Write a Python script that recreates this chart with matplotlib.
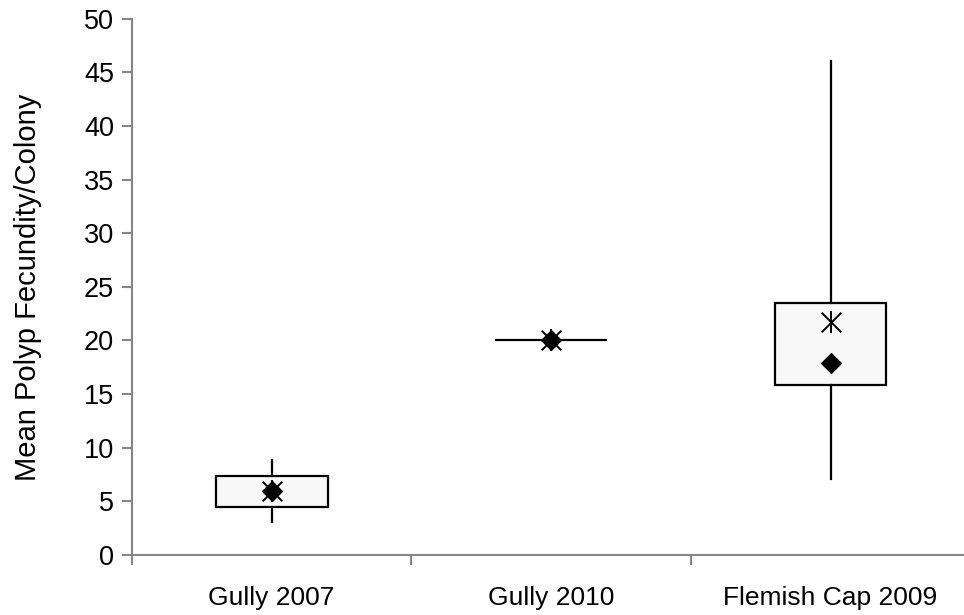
import matplotlib
matplotlib.use("Agg")
import matplotlib.pyplot as plt

categories = ["Gully 2007", "Gully 2010", "Flemish Cap 2009"]
whisker_low = [3.05, 20.05, 7.1]
q1 = [4.47, 20.05, 15.85]
q3 = [7.4, 20.05, 23.45]
whisker_high = [8.85, 20.05, 46.1]
diamond_vals = [6.0, 20.05, 17.9]
asterisk_vals = [6.0, 20.05, 21.75]
yticks = [0, 5, 10, 15, 20, 25, 30, 35, 40, 45, 50]

plt.rcParams['font.family'] = ['Liberation Sans', 'DejaVu Sans']

fig = plt.figure(figsize=(9.64, 6.15), dpi=100)
ax = fig.add_axes([132/964, 1 - 555/615, 1 - 132/964, (555 - 18.7)/615])

positions = list(range(1, len(categories) + 1))
stats = []
for i in range(len(categories)):
    stats.append(dict(whislo=whisker_low[i], q1=q1[i], med=(q1[i] + q3[i]) / 2,
                      q3=q3[i], whishi=whisker_high[i], label=categories[i]))

ax.bxp(stats, positions=positions, widths=0.4, showcaps=False, showfliers=False,
       patch_artist=True,
       boxprops=dict(facecolor='#f8f8f8', edgecolor='black', linewidth=1.6),
       whiskerprops=dict(color='black', linewidth=1.6),
       medianprops=dict(linewidth=0))

ax.scatter(positions, diamond_vals, marker='D', s=100, color='black', zorder=5)
ax.scatter(positions, asterisk_vals, marker='x', s=200, color='black', linewidths=1.4, zorder=6)
ax.scatter(positions, asterisk_vals, marker='|', s=240, color='black', linewidths=1.4, zorder=6)

ax.set_ylim(0, 50)
ax.set_xlim(0.5, 0.5 + (964 - 132) / 279.4)
ax.set_yticks(yticks)
ax.set_yticklabels([str(v) for v in yticks], fontsize=19.5)
ax.set_xticks(positions)
ax.set_xticklabels(categories, fontsize=19)
ax.set_xticks([0.5, 1.5, 2.5], minor=True)
ax.tick_params(axis='x', which='major', length=0, pad=22)
ax.tick_params(axis='x', which='minor', length=7, width=1.5, color='#868686', direction='out')
ax.tick_params(axis='y', length=7, width=1.5, color='#868686', pad=6)

for side in ['top', 'right']:
    ax.spines[side].set_visible(False)
for side in ['left', 'bottom']:
    ax.spines[side].set_color('#868686')
    ax.spines[side].set_linewidth(1.5)

ax.set_ylabel("Mean Polyp Fecundity/Colony", fontsize=21, labelpad=30)

fig.savefig("out.png", dpi=100)
